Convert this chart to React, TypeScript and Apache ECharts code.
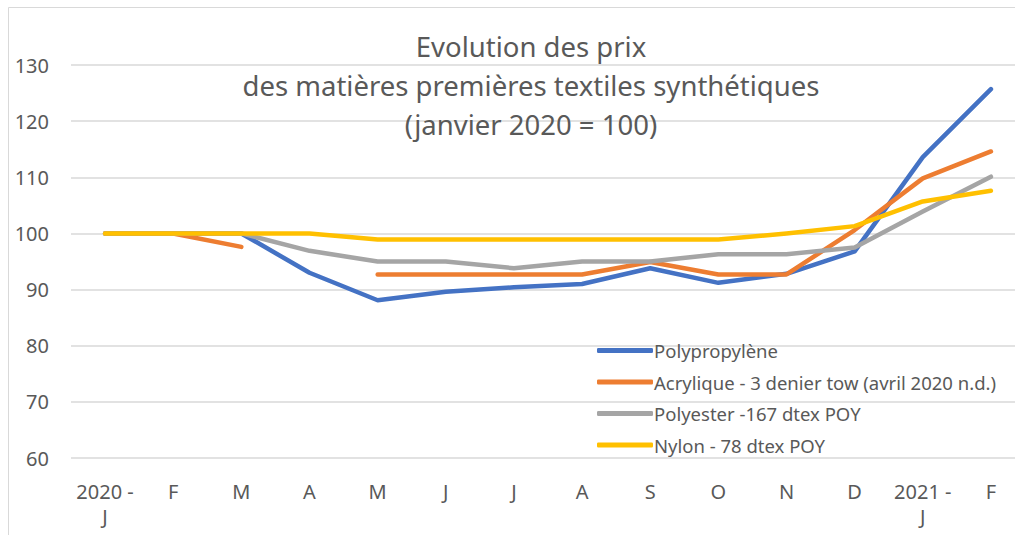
import React, { useEffect, useRef } from "react";
import * as echarts from "echarts";

const categories = ["2020 -\nJ", "F", "M", "A", "M", "J", "J", "A", "S", "O", "N", "D", "2021 -\nJ", "F"];
const polypropylene = [100, 100, 100, 93, 88.1, 89.6, 90.4, 91, 93.8, 91.2, 92.8, 96.8, 113.6, 125.7];
const acrylique = [100, 100, 97.6, null, 92.7, 92.7, 92.7, 92.7, 94.9, 92.7, 92.7, 100.6, 109.8, 114.6];
const polyester = [100, 100, 100, 96.9, 95, 95, 93.8, 95, 95, 96.3, 96.3, 97.5, 103.9, 110.1];
const nylon = [100, 100, 100, 100, 98.9, 98.9, 98.9, 98.9, 98.9, 98.9, 100, 101.3, 105.7, 107.6];
const seriesNames = [
  "Polypropylène",
  "Acrylique - 3 denier tow (avril 2020 n.d.)",
  "Polyester -167 dtex POY",
  "Nylon - 78 dtex POY",
];
const colors = ["#4472C4", "#ED7D31", "#A5A5A5", "#FFC000"];
const titleLines = ["Evolution des prix", "des matières premières textiles synthétiques", "(janvier 2020 = 100)"];

const FONT = "'Noto Sans', sans-serif";

export default function App() {
  const ref = useRef<HTMLDivElement>(null);
  useEffect(() => {
    if (!ref.current) return;
    const chart = echarts.init(ref.current, undefined, { renderer: "svg" });
    const dataSets = [polypropylene, acrylique, polyester, nylon];
    chart.setOption({
      animation: false,
      textStyle: { fontFamily: FONT },
      graphic: [
        {
          type: "rect",
          z: -10,
          shape: { x: 8.5, y: 7.5, width: 1200, height: 700 },
          style: { fill: "none", stroke: "#d9d9d9", lineWidth: 1 },
          silent: true,
        },
        {
          type: "text",
          x: 531,
          y: 27,
          z: 10,
          style: {
            text: titleLines.join("\n"),
            fontFamily: FONT,
            fontSize: 27.5,
            lineHeight: 39,
            fill: "#595959",
            align: "center",
            verticalAlign: "top",
          },
        },
      ],
      legend: {
        orient: "vertical",
        left: 592,
        top: 335,
        itemWidth: 56,
        itemHeight: 5,
        itemGap: 10.5,
        icon: "roundRect",
        data: seriesNames,
        textStyle: { fontFamily: FONT, fontSize: 18.5, lineHeight: 21, color: "#595959", padding: [0, 0, 0, -4] },
      },
      grid: { left: 71, right: 15, top: 65, bottom: 77, containLabel: false },
      xAxis: {
        type: "category",
        data: categories,
        boundaryGap: true,
        axisLine: { show: false },
        axisTick: { show: false },
        axisLabel: {
          fontFamily: FONT,
          fontSize: 20,
          color: "#595959",
          margin: 21,
          lineHeight: 25,
          interval: 0,
        },
      },
      yAxis: {
        type: "value",
        min: 60,
        max: 130,
        interval: 10,
        axisLine: { show: false },
        axisTick: { show: false },
        axisLabel: { fontFamily: FONT, fontSize: 20, color: "#595959", margin: 22 },
        splitLine: { lineStyle: { color: "#d9d9d9", width: 1.5 } },
      },
      series: seriesNames.map((name, i) => ({
        name,
        type: "line",
        data: dataSets[i],
        symbol: "none",
        connectNulls: false,
        color: colors[i],
        lineStyle: { width: 4.5, color: colors[i], cap: "round", join: "round" },
      })),
    });
    return () => chart.dispose();
  }, []);
  return (
    <div style={{ position: "fixed", left: 0, top: 0, width: 1015, height: 535, overflow: "hidden", background: "#fff" }}>
      <div ref={ref} style={{ width: 1040, height: 535 }} />
    </div>
  );
}
